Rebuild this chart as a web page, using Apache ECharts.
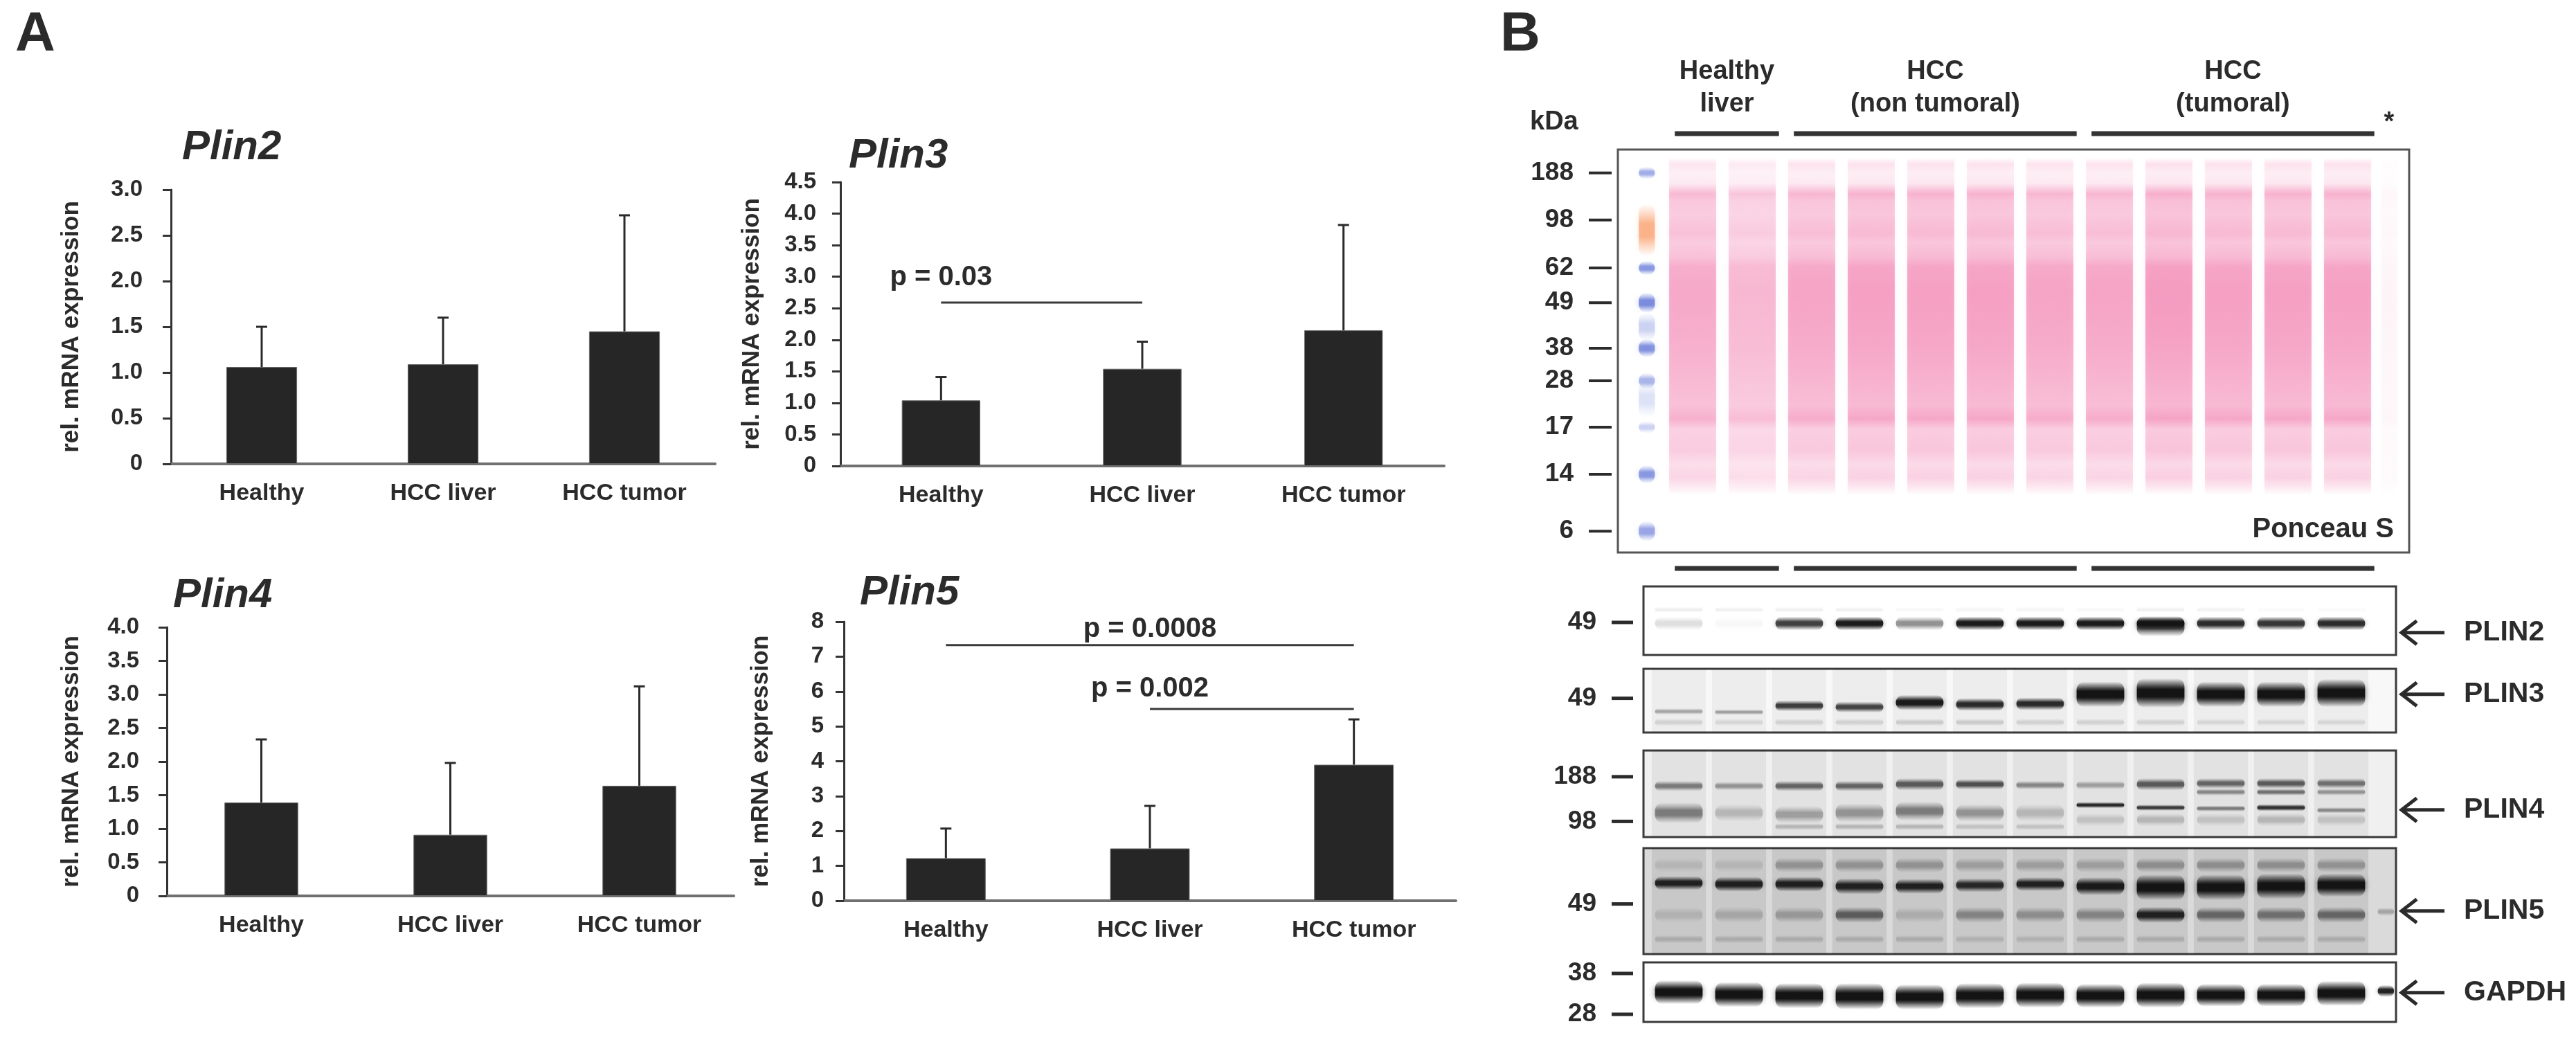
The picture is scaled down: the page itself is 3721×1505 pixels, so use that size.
<!DOCTYPE html>
<html lang="en">
<head>
<meta charset="UTF-8">
<title>Plin expression in HCC</title>
<script src="https://cdn.jsdelivr.net/npm/echarts@6.0.0/dist/echarts.min.js"></script>
<style>
  html, body { margin: 0; background: #fff; }
  #chart { width: 3721px; height: 1505px; }
</style>
</head>
<body>
<div id="chart"></div>
<script>
// ---------- panel A: qPCR, mean + SD ----------
var groups = ['Healthy', 'HCC liver', 'HCC tumor'];

var plin2Mean = [1.06, 1.09, 1.45];
var plin2Err  = [0.44, 0.51, 1.27];
var plin3Mean = [1.04, 1.54, 2.15];
var plin3Err  = [0.37, 0.43, 1.67];
var plin4Mean = [1.39, 0.91, 1.64];
var plin4Err  = [0.94, 1.07, 1.48];
var plin5Mean = [1.22, 1.50, 3.90];
var plin5Err  = [0.85, 1.22, 1.30];

// [from group, to group, bar level, label at group, label level]
var plin3Sig = [[0, 1, 2.59, 0.31, 2.99]];
var plin3SigText = ['p = 0.03'];
var plin5Sig = [[0, 2, 7.33, 0.98, 7.78], [1, 2, 5.50, 1.35, 6.07]];
var plin5SigText = ['p = 0.0008', 'p = 0.002'];

// ---------- panel B: blots ----------
var lanes = [1, 2, 3, 4, 5, 6, 7, 8, 9, 10, 11, 12];
var laneGroups = [[1, 2], [3, 7], [8, 12]];
var laneGroupTop = ['Healthy', 'HCC', 'HCC'];
var laneGroupSub = ['liver', '(non tumoral)', '(tumoral)'];

// Ponceau S: lane loading and the stain profile down the membrane (0 = top, 1 = bottom)
var ponceauLanes = [[1, 0.85], [2, 0.7], [3, 0.9], [4, 0.95], [5, 0.95], [6, 0.95], [7, 0.9],
  [8, 0.9], [9, 1.0], [10, 0.95], [11, 0.95], [12, 0.95], [12.7, 0.1]];
var ponceauPos   = [0, 0.02, 0.036, 0.058, 0.084, 0.11, 0.127, 0.16, 0.208, 0.23, 0.268, 0.29,
  0.35, 0.42, 0.488, 0.557, 0.634, 0.668, 0.694, 0.746, 0.78, 0.814, 0.84, 0.857, 1];
var ponceauLevel = [0, 0, 0.25, 0.15, 0.2, 0.7, 0.55, 0.5, 0.62, 0.5, 0.62, 0.82,
  0.88, 0.85, 0.8, 0.72, 0.62, 0.8, 0.45, 0.5, 0.32, 0.4, 0.18, 0, 0];
// ladder lane: [lane, position, level, spread]
var ladderBlue = [[0.23, 0.058, 0.55, 0.03], [0.23, 0.294, 0.7, 0.035], [0.23, 0.38, 0.8, 0.05],
  [0.23, 0.493, 0.75, 0.045], [0.23, 0.574, 0.5, 0.04], [0.23, 0.689, 0.3, 0.03],
  [0.23, 0.806, 0.7, 0.045], [0.23, 0.947, 0.6, 0.05], [0.23, 0.44, 0.3, 0.07], [0.23, 0.62, 0.2, 0.09]];
var ladderOrange = [[0.23, 0.2, 0.75, 0.13]];
var ponceauKda = [[0.058, '188'], [0.175, '98'], [0.294, '62'], [0.38, '49'], [0.493, '38'],
  [0.574, '28'], [0.689, '17'], [0.806, '14'], [0.947, '6']];

function row(y, spread, levels) {
  return levels.map(function (v, i) { return [lanes[i], y, v, spread]; });
}

// western bands: [lane, position, level, spread]
var plin2Bands = row(0.34, 0.08, [0.07, 0.06, 0.06, 0.06, 0.03, 0.04, 0.04, 0.03, 0.06, 0.05, 0.02, 0.02])
  .concat(row(0.54, 0.2, [0.13, 0.03, 0.75, 0.95, 0.42, 0.95, 0.95, 0.95, 1.0, 0.85, 0.8, 0.85]))
  .concat([[9, 0.58, 0.7, 0.3]]);

var plin3Bands = [[1, 0.67, 0.3, 0.1], [2, 0.68, 0.32, 0.09], [3, 0.58, 0.75, 0.17], [4, 0.6, 0.72, 0.17],
  [5, 0.53, 0.95, 0.24], [6, 0.56, 0.85, 0.2], [7, 0.55, 0.85, 0.2], [8, 0.4, 1, 0.4],
  [9, 0.38, 1, 0.46], [10, 0.4, 1, 0.4], [11, 0.4, 1, 0.4], [12, 0.38, 1, 0.44]]
  .concat(row(0.84, 0.12, [0.12, 0.1, 0.12, 0.12, 0.15, 0.15, 0.12, 0.12, 0.12, 0.1, 0.1, 0.1]));

var plin4Bands = [[1, 0.41, 0.45, 0.12], [2, 0.41, 0.35, 0.1], [3, 0.41, 0.55, 0.12], [4, 0.41, 0.55, 0.12],
  [5, 0.39, 0.6, 0.14], [6, 0.39, 0.65, 0.12], [7, 0.4, 0.4, 0.1], [8, 0.4, 0.3, 0.1],
  [9, 0.39, 0.6, 0.14], [10, 0.38, 0.55, 0.12], [11, 0.38, 0.6, 0.12], [12, 0.38, 0.5, 0.12],
  [10, 0.48, 0.4, 0.08], [11, 0.48, 0.5, 0.08], [12, 0.48, 0.35, 0.08],
  [1, 0.72, 0.45, 0.24], [2, 0.72, 0.2, 0.2], [3, 0.74, 0.3, 0.2], [4, 0.72, 0.35, 0.22],
  [5, 0.7, 0.45, 0.22], [6, 0.72, 0.35, 0.2], [7, 0.72, 0.2, 0.2],
  [8, 0.63, 0.85, 0.07], [9, 0.66, 0.75, 0.07], [10, 0.67, 0.45, 0.07], [11, 0.66, 0.8, 0.08], [12, 0.69, 0.4, 0.07],
  [8, 0.8, 0.15, 0.15], [9, 0.8, 0.2, 0.15], [10, 0.8, 0.15, 0.15], [11, 0.8, 0.2, 0.15], [12, 0.8, 0.15, 0.15],
  [3, 0.88, 0.2, 0.08], [4, 0.88, 0.2, 0.08], [5, 0.88, 0.2, 0.08], [6, 0.88, 0.15, 0.08], [7, 0.88, 0.15, 0.08]];

var plin5Bands = [[1, 0.33, 0.9, 0.13], [2, 0.34, 0.9, 0.14], [3, 0.34, 0.9, 0.14], [4, 0.36, 0.9, 0.15],
  [5, 0.36, 0.9, 0.14], [6, 0.35, 0.85, 0.13], [7, 0.34, 0.9, 0.13], [8, 0.36, 0.95, 0.17],
  [9, 0.37, 1, 0.24], [10, 0.37, 1, 0.24], [11, 0.36, 1, 0.24], [12, 0.35, 1, 0.22]]
  .concat(row(0.16, 0.14, [0.1, 0.1, 0.28, 0.28, 0.28, 0.22, 0.22, 0.22, 0.3, 0.3, 0.3, 0.28]))
  .concat(row(0.63, 0.15, [0.12, 0.18, 0.25, 0.55, 0.15, 0.35, 0.3, 0.35, 0.9, 0.5, 0.45, 0.5]))
  .concat(row(0.86, 0.08, [0.15, 0.15, 0.15, 0.15, 0.15, 0.12, 0.12, 0.15, 0.15, 0.15, 0.15, 0.15]))
  .concat([[12.74, 0.6, 0.25, 0.08]]);

var gapdhBands = [[1, 0.5, 1, 0.4], [2, 0.54, 1, 0.42], [3, 0.56, 1, 0.42], [4, 0.57, 1, 0.44],
  [5, 0.58, 1, 0.42], [6, 0.56, 1, 0.42], [7, 0.55, 1, 0.42], [8, 0.56, 1, 0.4], [9, 0.55, 1, 0.42],
  [10, 0.55, 1, 0.38], [11, 0.55, 1, 0.38], [12, 0.52, 1, 0.42], [12.74, 0.48, 0.9, 0.2]];

var plin2Kda = [[0.525, '49']];
var plin3Kda = [[0.463, '49']];
var plin4Kda = [[0.303, '188'], [0.819, '98']];
var plin5Kda = [[0.527, '49']];
var gapdhKda = [[0.186, '38'], [0.872, '28']];

var stripNames = ['PLIN2', 'PLIN3', 'PLIN4', 'PLIN5', 'GAPDH'];
var stripArrowAt = [0.674, 0.40, 0.686, 0.593, 0.508];

// ---------- drawing ----------
var FONT = "'Liberation Sans', Arial, Helvetica, sans-serif";
var INK = '#2b2b2b';

function txt(x, y, text, size, align, vAlign) {
  return {
    type: 'text', x: x, y: y,
    style: {
      text: text, fill: INK, font: 'bold ' + size + 'px ' + FONT,
      align: align, textAlign: align, verticalAlign: vAlign, textVerticalAlign: vAlign
    }
  };
}

function errorBar(params, api) {
  var base = api.coord([api.value(0), api.value(1)]);
  var top = api.coord([api.value(0), api.value(2)]);
  return {
    type: 'group', children: [
      { type: 'line', shape: { x1: base[0], y1: base[1], x2: top[0], y2: top[1] }, style: { stroke: '#2a2a2a', lineWidth: 3 } },
      { type: 'line', shape: { x1: top[0] - 8, y1: top[1], x2: top[0] + 8, y2: top[1] }, style: { stroke: '#2a2a2a', lineWidth: 3 } }
    ]
  };
}

function sigRenderer(texts) {
  return function (params, api) {
    var a = api.coord([api.value(0), api.value(2)]);
    var b = api.coord([api.value(1), api.value(2)]);
    var t = api.coord([api.value(3), api.value(4)]);
    return {
      type: 'group', children: [
        { type: 'line', shape: { x1: a[0], y1: a[1], x2: b[0], y2: b[1] }, style: { stroke: '#3a3a3a', lineWidth: 3 } },
        txt(t[0], t[1], texts[params.dataIndex], 40, 'center', 'middle')
      ]
    };
  };
}

// soft band: vertical fade plus a blur of the same colour
function bandRenderer(rgb, laneWidth) {
  return function (params, api) {
    var lane = api.value(0);
    var c = api.coord([lane, api.value(1)]);
    var w = api.size([(lane > 12.5 || lane < 0.5) ? 0.34 : laneWidth, 0])[0];
    var h = Math.max(api.size([0, api.value(3)])[1], 3);
    var col = 'rgba(' + rgb + ',' + api.value(2) + ')';
    var half = 'rgba(' + rgb + ',' + (api.value(2) * 0.45).toFixed(3) + ')';
    var clear = 'rgba(' + rgb + ',0)';
    return {
      type: 'rect',
      shape: { x: c[0] - w / 2 + 3, y: c[1] - h / 2, width: w - 6, height: h, r: Math.min(h / 2, 12) },
      style: {
        shadowBlur: Math.min(h * 0.35, 8), shadowColor: half,
        fill: {
          type: 'linear', x: 0, y: 0, x2: 0, y2: 1, colorStops: [
            { offset: 0, color: clear }, { offset: 0.2, color: half }, { offset: 0.38, color: col },
            { offset: 0.62, color: col }, { offset: 0.8, color: half }, { offset: 1, color: clear }]
        }
      }
    };
  };
}

function ponceauLane(params, api) {
  var lane = api.value(0);
  var top = api.coord([lane, 0]);
  var bot = api.coord([lane, 1]);
  var w = api.size([lane > 12.5 ? 0.34 : 0.86, 0])[0];
  var stops = ponceauPos.map(function (p, i) {
    return { offset: p, color: 'rgba(236,72,140,' + (ponceauLevel[i] * api.value(1) * 0.55).toFixed(3) + ')' };
  });
  return {
    type: 'rect',
    shape: { x: top[0] - w / 2 + 3, y: top[1], width: w - 6, height: bot[1] - top[1] },
    style: { shadowBlur: 6, shadowColor: 'rgba(236,72,140,0.25)', fill: { type: 'linear', x: 0, y: 0, x2: 0, y2: 1, colorStops: stops } }
  };
}

function laneTint(alpha) {
  return function (params, api) {
    var top = api.coord([api.value(0), 0]);
    var bot = api.coord([api.value(0), 1]);
    var w = api.size([0.9, 0])[0];
    return { type: 'rect', shape: { x: top[0] - w / 2, y: top[1], width: w, height: bot[1] - top[1] }, style: { fill: 'rgba(0,0,0,' + alpha + ')' } };
  };
}

function kdaRenderer(list, dashFrom, dashTo, textRight, dashWidth) {
  return function (params, api) {
    var y = api.coord([6, api.value(1)])[1];
    var x0 = params.coordSys.x;
    return {
      type: 'group', children: [
        { type: 'line', shape: { x1: x0 + dashFrom, y1: y, x2: x0 + dashTo, y2: y }, style: { stroke: INK, lineWidth: dashWidth } },
        txt(x0 + textRight, y, list[params.dataIndex][1], 37, 'right', 'middle')
      ]
    };
  };
}

function arrowRenderer(name) {
  return function (params, api) {
    var y = api.coord([6, api.value(1)])[1];
    var tip = params.coordSys.x + params.coordSys.width + 8;
    return {
      type: 'group', children: [
        { type: 'line', shape: { x1: tip + 2, y1: y, x2: tip + 62, y2: y }, style: { stroke: INK, lineWidth: 5 } },
        { type: 'polyline', shape: { points: [[tip + 22, y - 17], [tip, y], [tip + 22, y + 17]] }, style: { stroke: INK, lineWidth: 5, fill: 'none' } },
        txt(tip + 90, y, name, 41, 'left', 'middle')
      ]
    };
  };
}

function headerRenderer(params, api) {
  var a = api.coord([api.value(0) - 0.3, 0])[0];
  var b = api.coord([api.value(1) + 0.45, 0])[0];
  var yTop = params.coordSys.y;
  var yBot = yTop + params.coordSys.height;
  var i = params.dataIndex;
  return {
    type: 'group', children: [
      { type: 'line', shape: { x1: a, y1: yTop - 23, x2: b, y2: yTop - 23 }, style: { stroke: '#333', lineWidth: 7 } },
      { type: 'line', shape: { x1: a, y1: yBot + 23, x2: b, y2: yBot + 23 }, style: { stroke: '#333', lineWidth: 7 } },
      txt((a + b) / 2, yTop - 112, laneGroupTop[i], 38, 'center', 'middle'),
      txt((a + b) / 2, yTop - 65, laneGroupSub[i], 38, 'center', 'middle')
    ]
  };
}

var option = {
  animation: false,
  backgroundColor: '#ffffff',
  textStyle: { fontFamily: FONT },
  title: [], grid: [], xAxis: [], yAxis: [], series: [],
  graphic: [
    txt(22, 51, 'A', 80, 'left', 'middle'),
    txt(2167, 51, 'B', 80, 'left', 'middle'),
    txt(2210, 177, 'kDa', 38, 'left', 'middle'),
    txt(3451, 178, '*', 38, 'center', 'middle'),
    txt(3458, 765, 'Ponceau S', 40, 'right', 'middle')
  ]
};

var panelA = [
  { name: 'Plin2', mean: plin2Mean, err: plin2Err, max: 3, step: 0.5, box: [247, 274, 786, 396], margin: 41, nameGap: 126, title: [263, 183] },
  { name: 'Plin3', mean: plin3Mean, err: plin3Err, max: 4.5, step: 0.5, box: [1214, 263, 872, 410], margin: 35, nameGap: 110, title: [1226, 195], sig: plin3Sig, sigText: plin3SigText },
  { name: 'Plin4', mean: plin4Mean, err: plin4Err, max: 4, step: 0.5, box: [241, 906, 819, 388], margin: 40, nameGap: 120, title: [250, 830] },
  { name: 'Plin5', mean: plin5Mean, err: plin5Err, max: 8, step: 1, box: [1219, 898, 884, 403], margin: 29, nameGap: 102, title: [1242, 826], sig: plin5Sig, sigText: plin5SigText }
];

panelA.forEach(function (c) {
  var k = option.grid.length;
  option.title.push({
    text: c.name, left: c.title[0], top: c.title[1], padding: 0,
    textStyle: { fontFamily: FONT, fontSize: 60, fontWeight: 'bold', fontStyle: 'italic', color: INK, lineHeight: 60 }
  });
  option.grid.push({ left: c.box[0], top: c.box[1], width: c.box[2], height: c.box[3], containLabel: false, outerBoundsMode: 'none' });
  option.xAxis.push({
    gridIndex: k, type: 'category', data: groups,
    axisTick: { show: false },
    axisLine: { lineStyle: { color: '#707070', width: 4 } },
    axisLabel: { margin: 26, fontSize: 34, fontWeight: 'bold', color: INK, fontFamily: FONT }
  });
  option.yAxis.push({
    gridIndex: k, type: 'value', min: 0, max: c.max, interval: c.step,
    splitLine: { show: false },
    axisLine: { show: true, lineStyle: { color: '#333', width: 3 } },
    axisTick: { show: true, length: 12, lineStyle: { color: '#333', width: 3 } },
    axisLabel: {
      margin: c.margin, fontSize: 33, fontWeight: 'bold', color: INK, fontFamily: FONT,
      formatter: c.step < 1 ? function (v) { return v === 0 ? '0' : v.toFixed(1); } : '{value}'
    },
    name: 'rel. mRNA expression', nameLocation: 'middle', nameGap: c.nameGap, nameRotate: 90,
    nameTextStyle: { fontSize: 35, fontWeight: 'bold', color: INK, fontFamily: FONT }
  });
  option.series.push({
    type: 'bar', xAxisIndex: k, yAxisIndex: k, data: c.mean, barWidth: '39%', silent: true,
    itemStyle: { color: '#262626', borderColor: '#6a6a6a', borderWidth: 1 }
  });
  option.series.push({
    type: 'custom', xAxisIndex: k, yAxisIndex: k, silent: true, z: 3,
    data: c.mean.map(function (m, i) { return [i, m, m + c.err[i]]; }),
    renderItem: errorBar
  });
  if (c.sig) {
    option.series.push({ type: 'custom', xAxisIndex: k, yAxisIndex: k, silent: true, z: 3, data: c.sig, renderItem: sigRenderer(c.sigText) });
  }
});

function addBlotGrid(box, xMin, xMax, bg, border) {
  var k = option.grid.length;
  option.grid.push({
    left: box[0], top: box[1], width: box[2], height: box[3], show: true,
    backgroundColor: bg, borderColor: border, borderWidth: 3, containLabel: false, outerBoundsMode: 'none'
  });
  option.xAxis.push({ gridIndex: k, type: 'value', min: xMin, max: xMax, show: false });
  option.yAxis.push({ gridIndex: k, type: 'value', min: 0, max: 1, inverse: true, show: false });
  return k;
}
function addSeries(k, data, renderItem, z) {
  option.series.push({ type: 'custom', xAxisIndex: k, yAxisIndex: k, silent: true, z: z || 2, data: data, renderItem: renderItem });
}

// Ponceau S membrane
var pk = addBlotGrid([2337, 216, 1143, 582], -0.256, 13.035, '#ffffff', '#555');
addSeries(pk, ponceauLanes, ponceauLane);
addSeries(pk, ladderOrange, bandRenderer('250,160,110', 0.34), 3);
addSeries(pk, ladderBlue, bandRenderer('100,120,215', 0.34), 3);
addSeries(pk, ponceauKda.map(function (d) { return [6, d[0]]; }), kdaRenderer(ponceauKda, -42, -9, -64, 4), 4);
addSeries(pk, laneGroups, headerRenderer, 4);

// western strips
var stripBands = [plin2Bands, plin3Bands, plin4Bands, plin5Bands, gapdhBands];
var stripKda = [plin2Kda, plin3Kda, plin4Kda, plin5Kda, gapdhKda];
var stripBox = [[847, 99], [966, 92], [1084, 125], [1225, 153], [1390, 86]];
var stripBg = ['#ffffff', '#f8f8f8', '#f0f0f0', '#dadada', '#ffffff'];
var stripTint = [0, 0.045, 0.055, 0.08, 0];

stripNames.forEach(function (name, i) {
  var k = addBlotGrid([2374, stripBox[i][0], 1087, stripBox[i][1]], 0.414, 12.908, stripBg[i], '#3a3a3a');
  if (stripTint[i] > 0) addSeries(k, lanes.map(function (l) { return [l, 0.5]; }), laneTint(stripTint[i]), 2);
  addSeries(k, stripBands[i], bandRenderer('20,20,20', 0.86), 3);
  addSeries(k, stripKda[i].map(function (d) { return [6, d[0]]; }), kdaRenderer(stripKda[i], -46, -15, -68, 5), 4);
  addSeries(k, [[6, stripArrowAt[i]]], arrowRenderer(name), 4);
});

var chart = echarts.init(document.getElementById('chart'));
chart.setOption(option);
</script>
</body>
</html>
